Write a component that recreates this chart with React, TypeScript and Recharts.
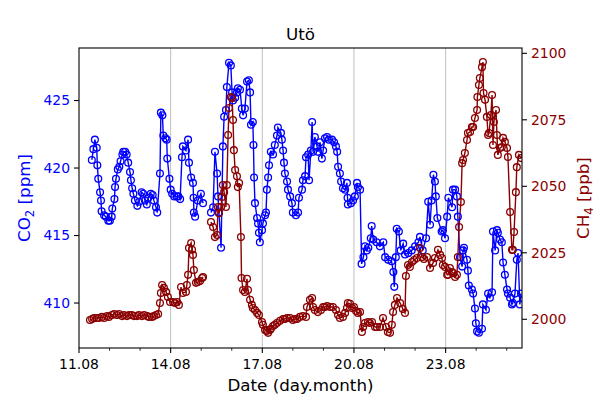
import React from "react";
import { ComposedChart, Line, XAxis, YAxis, ReferenceLine } from "recharts";

// [day of August, ppm]  (day 15.06 -> 15.32 has no measurements)
const co2BeforeGap: [number, number][] = [
  [11.42, 420.6], [11.47, 421.4], [11.52, 422.1], [11.58, 421.5], [11.6, 420.2], [11.63, 419.2],
  [11.69, 418.2], [11.72, 417.6], [11.74, 416.8], [11.82, 416.5], [11.88, 416.4], [11.96, 416.1],
  [12.01, 416.1], [12.07, 416.4], [12.09, 417.0], [12.16, 417.7], [12.18, 418.6], [12.21, 419.2],
  [12.27, 419.9], [12.32, 420.1], [12.36, 420.5], [12.42, 421.0], [12.45, 421.2], [12.51, 421.2],
  [12.56, 421.0], [12.61, 420.4], [12.67, 419.7], [12.7, 419.1], [12.74, 418.5], [12.78, 418.1],
  [12.83, 417.6], [12.91, 417.2], [12.97, 417.5], [13.05, 418.2], [13.1, 418.1], [13.16, 417.6],
  [13.22, 417.3], [13.27, 417.8], [13.35, 418.1], [13.41, 418.0], [13.45, 417.6], [13.52, 417.1],
  [13.56, 416.7], [13.65, 419.6], [13.68, 424.1], [13.73, 423.9], [13.76, 422.4], [13.83, 422.2],
  [13.87, 422.1], [13.89, 420.7], [13.96, 419.2], [14.0, 418.4], [14.05, 418.1], [14.12, 417.9],
  [14.2, 417.9], [14.25, 417.9], [14.31, 417.7], [14.37, 420.8], [14.4, 421.6], [14.5, 421.3],
  [14.57, 422.1], [14.6, 420.4], [14.67, 419.3], [14.73, 418.9], [14.75, 417.8], [14.76, 416.7],
  [14.8, 416.4], [14.89, 417.6], [14.99, 418.1], [15.06, 417.4],
];

const co2AfterGap: [number, number][] = [
  [15.32, 416.7], [15.39, 417.1], [15.45, 421.2], [15.52, 419.6], [15.55, 417.9], [15.58, 416.7],
  [15.65, 414.1], [15.71, 421.6], [15.75, 423.8], [15.81, 424.3], [15.84, 426.0], [15.91, 427.8],
  [15.97, 427.6], [16.01, 425.6], [16.04, 425.0], [16.11, 425.2], [16.17, 425.6], [16.2, 425.9],
  [16.27, 425.8], [16.33, 424.4], [16.37, 423.9], [16.43, 424.4], [16.5, 426.4], [16.56, 426.5],
  [16.6, 425.6], [16.63, 423.2], [16.69, 423.4], [16.71, 421.7], [16.73, 419.3], [16.76, 417.4],
  [16.83, 416.3], [16.86, 415.9], [16.89, 415.2], [16.92, 414.5], [16.99, 415.4], [17.02, 415.9],
  [17.09, 416.5], [17.12, 416.7], [17.15, 418.4], [17.19, 419.3], [17.22, 420.2], [17.28, 421.2],
  [17.35, 421.0], [17.41, 421.7], [17.48, 422.4], [17.51, 423.0], [17.61, 422.6], [17.64, 422.1],
  [17.68, 421.3], [17.71, 420.4], [17.74, 419.6], [17.81, 419.0], [17.84, 418.4], [17.91, 417.9],
  [17.97, 417.4], [18.0, 416.7], [18.1, 416.5], [18.17, 416.7], [18.2, 417.8], [18.3, 418.4],
  [18.33, 419.1], [18.4, 419.4], [18.43, 420.8], [18.5, 421.0], [18.53, 419.1], [18.59, 421.3],
  [18.63, 423.4], [18.66, 421.2], [18.72, 422.3], [18.79, 421.6], [18.82, 421.2], [18.89, 421.9],
  [18.95, 420.7], [18.99, 421.3], [19.05, 422.2], [19.12, 422.3], [19.18, 422.1], [19.28, 422.1],
  [19.35, 421.9], [19.41, 421.6], [19.45, 421.2], [19.48, 420.1], [19.54, 419.6], [19.58, 419.0],
  [19.64, 418.5], [19.71, 418.4], [19.77, 418.9], [19.79, 417.8], [19.8, 417.3], [19.9, 417.4],
  [19.97, 417.6], [20.03, 417.9], [20.1, 418.9], [20.13, 418.6], [20.2, 418.4], [20.25, 412.9],
  [20.31, 413.4], [20.36, 414.2], [20.42, 413.9], [20.47, 414.1], [20.55, 414.8], [20.58, 415.7],
  [20.63, 414.7], [20.74, 414.5], [20.85, 414.2], [20.96, 414.5], [21.02, 413.4], [21.12, 413.2],
  [21.23, 413.1], [21.29, 412.3], [21.32, 411.2], [21.37, 413.4], [21.4, 415.5], [21.47, 415.3],
  [21.53, 413.9], [21.61, 414.4], [21.67, 413.6], [21.78, 413.7], [21.89, 413.9], [22.0, 414.2],
  [22.11, 414.5], [22.16, 414.9], [22.25, 413.9], [22.36, 414.8], [22.43, 417.5], [22.49, 415.8],
  [22.54, 417.6], [22.6, 419.5], [22.65, 419.0], [22.68, 417.9], [22.73, 416.3], [22.87, 415.3],
  [22.91, 415.4], [22.98, 414.8], [23.05, 416.4], [23.09, 417.8], [23.21, 417.1], [23.24, 418.4],
  [23.31, 418.4], [23.37, 417.9], [23.4, 416.4], [23.47, 413.4], [23.54, 412.7], [23.57, 413.9],
  [23.6, 414.1], [23.7, 413.2], [23.73, 412.4], [23.76, 411.3], [23.86, 411.0], [23.9, 410.7],
  [23.96, 409.6], [23.99, 408.5], [24.03, 407.9], [24.09, 407.8], [24.19, 408.1], [24.22, 409.9],
  [24.32, 409.5], [24.39, 410.7], [24.45, 410.4], [24.52, 410.8], [24.55, 415.3], [24.62, 413.9],
  [24.68, 415.4], [24.71, 415.2], [24.78, 414.7], [24.84, 414.5], [24.88, 413.0], [24.94, 412.1],
  [25.01, 411.0], [25.04, 410.7], [25.11, 410.4], [25.17, 409.9], [25.2, 410.0], [25.27, 410.7],
  [25.33, 413.2], [25.37, 413.7], [25.43, 409.9], [25.47, 410.7],
];

// [day of August, ppb]
const ch4BeforeGap: [number, number][] = [
  [11.36, 1999.7], [11.43, 2000.1], [11.49, 2000.5], [11.59, 2000.5], [11.65, 2000.5], [11.75, 2000.9],
  [11.82, 2000.5], [11.92, 2001.2], [11.98, 2000.9], [12.08, 2001.6], [12.15, 2002.0], [12.24, 2001.6],
  [12.31, 2002.0], [12.41, 2001.2], [12.47, 2001.6], [12.57, 2001.2], [12.64, 2001.6], [12.73, 2001.6],
  [12.8, 2001.2], [12.9, 2001.2], [12.96, 2001.6], [13.06, 2001.2], [13.13, 2001.6], [13.23, 2001.2],
  [13.29, 2000.9], [13.39, 2000.9], [13.45, 2001.2], [13.52, 2001.6], [13.59, 2002.0], [13.65, 2006.1],
  [13.68, 2009.9], [13.72, 2012.9], [13.78, 2011.8], [13.85, 2010.3], [13.91, 2008.4], [13.98, 2006.5],
  [14.08, 2006.5], [14.14, 2006.1], [14.21, 2006.5], [14.27, 2005.4], [14.34, 2012.1], [14.4, 2009.9],
  [14.5, 2010.3], [14.53, 2012.9], [14.57, 2016.7], [14.6, 2026.8], [14.67, 2028.7], [14.7, 2026.1],
  [14.73, 2024.2], [14.76, 2018.5], [14.83, 2013.7], [14.89, 2014.0], [14.96, 2014.4], [15.03, 2015.5],
  [15.06, 2015.9],
];

const ch4AfterGap: [number, number][] = [
  [15.32, 2036.6], [15.39, 2034.7], [15.45, 2030.9], [15.52, 2031.7], [15.55, 2042.2], [15.58, 2039.9],
  [15.65, 2042.2], [15.68, 2046.0], [15.71, 2050.5], [15.75, 2047.8], [15.81, 2042.2], [15.84, 2050.5],
  [15.88, 2069.3], [15.91, 2079.4], [15.97, 2083.6], [16.01, 2083.2], [16.04, 2074.9], [16.07, 2063.6],
  [16.11, 2056.1], [16.17, 2053.8], [16.2, 2049.7], [16.24, 2051.2], [16.3, 2030.9], [16.32, 2015.5],
  [16.37, 2011.0], [16.43, 2010.3], [16.5, 2015.2], [16.53, 2011.0], [16.6, 2007.3], [16.66, 2005.4],
  [16.69, 2004.2], [16.76, 2003.5], [16.83, 2002.4], [16.89, 2001.6], [16.99, 1999.0], [17.02, 1997.9],
  [17.09, 1996.0], [17.15, 1995.6], [17.19, 1994.9], [17.25, 1996.0], [17.28, 1996.4], [17.35, 1997.5],
  [17.41, 1997.9], [17.48, 1998.6], [17.58, 1999.4], [17.68, 2000.1], [17.74, 2000.1], [17.81, 2000.5],
  [17.91, 2000.5], [18.0, 1999.7], [18.07, 2000.1], [18.14, 2000.1], [18.23, 2000.9], [18.33, 2001.2],
  [18.43, 2000.9], [18.46, 2004.6], [18.56, 2007.3], [18.63, 2008.0], [18.66, 2004.6], [18.72, 2003.5],
  [18.82, 2002.7], [18.92, 2003.5], [18.99, 2004.6], [19.05, 2004.6], [19.12, 2005.0], [19.22, 2004.6],
  [19.31, 2004.6], [19.41, 2003.5], [19.48, 2001.6], [19.54, 2000.5], [19.64, 2000.9], [19.71, 2002.4],
  [19.77, 2004.2], [19.8, 2006.1], [19.87, 2005.8], [19.94, 2004.2], [20.0, 2004.6], [20.07, 2003.1],
  [20.13, 2002.4], [20.2, 2002.7], [20.26, 1995.2], [20.3, 1997.1], [20.36, 1998.6], [20.46, 1999.0],
  [20.52, 1998.6], [20.59, 1999.0], [20.69, 1997.1], [20.75, 1997.1], [20.85, 1997.1], [20.95, 2000.5],
  [21.05, 1997.1], [21.11, 1995.2], [21.18, 1994.9], [21.24, 1997.9], [21.28, 2002.7], [21.34, 2005.4],
  [21.41, 2008.0], [21.51, 2006.1], [21.6, 2003.9], [21.67, 2002.4], [21.7, 2016.3], [21.77, 2020.4],
  [21.83, 2019.7], [21.9, 2021.5], [21.97, 2022.3], [22.06, 2023.0], [22.16, 2026.8], [22.23, 2023.4],
  [22.29, 2022.7], [22.39, 2023.4], [22.49, 2019.3], [22.59, 2021.2], [22.65, 2023.0], [22.75, 2026.1],
  [22.82, 2024.2], [22.88, 2023.0], [22.91, 2020.4], [22.98, 2019.7], [23.05, 2016.7], [23.08, 2016.7],
  [23.14, 2019.3], [23.21, 2017.8], [23.24, 2017.4], [23.31, 2015.9], [23.37, 2016.7], [23.4, 2023.4],
  [23.44, 2034.7], [23.5, 2044.1], [23.54, 2058.7], [23.57, 2059.9], [23.63, 2062.5], [23.7, 2067.4],
  [23.73, 2070.0], [23.8, 2070.4], [23.86, 2072.3], [23.9, 2072.3], [23.96, 2075.7], [24.03, 2078.7],
  [24.04, 2083.6], [24.09, 2088.1], [24.12, 2090.7], [24.19, 2094.8], [24.22, 2096.7], [24.24, 2085.1],
  [24.29, 2082.5], [24.35, 2076.1], [24.39, 2069.3], [24.42, 2070.0], [24.48, 2076.8], [24.52, 2084.3],
  [24.55, 2065.5], [24.58, 2074.2], [24.65, 2078.7], [24.68, 2069.3], [24.71, 2061.8], [24.78, 2064.4],
  [24.84, 2064.8], [24.88, 2068.2], [24.94, 2066.7], [25.01, 2064.4], [25.04, 2061.0], [25.11, 2040.3],
  [25.17, 2026.1], [25.2, 2026.1], [25.24, 2032.8], [25.3, 2047.8], [25.33, 2057.2], [25.4, 2061.8],
  [25.47, 2060.6],
];

const GAP_DAY = 15.2;

const dayTicks = [11, 12, 13, 14, 15, 16, 17, 18, 19, 20, 21, 22, 23, 24, 25];
const labelledDays = [11, 14, 17, 20, 23];
const co2Ticks = [410, 415, 420, 425];
const ch4Ticks = [2000, 2025, 2050, 2075, 2100];

const BLUE = "#0000ff";
const RED = "#8b0000";
const FONT = "DejaVu Sans, sans-serif";

const withGap = (a: [number, number][], b: [number, number][]) => [
  ...a.map(([t, v]) => ({ t, v })),
  { t: GAP_DAY, v: null },
  ...b.map(([t, v]) => ({ t, v })),
];

const co2Data = withGap(co2BeforeGap, co2AfterGap);
const ch4Data = withGap(ch4BeforeGap, ch4AfterGap);

const DayTick = (props: any) => {
  const { x, y, payload } = props;
  const major = labelledDays.includes(payload.value);
  return (
    <g>
      <line x1={x} x2={x} y1={y} y2={y + (major ? 4.9 : 2.8)} stroke="#000" strokeWidth={major ? 1.1 : 0.8} />
      {major && (
        <text x={x} y={y + 20.5} textAnchor="middle" fontSize={13.9} fontFamily={FONT} fill="#000">
          {String(payload.value).padStart(2, "0") + ".08"}
        </text>
      )}
    </g>
  );
};

export default function App() {
  return (
    <div style={{ position: "absolute", left: 0, top: 0, width: 600, height: 400, background: "#fff" }}>
      <ComposedChart width={600} height={400} margin={{ top: 48, right: 0, bottom: 0, left: 0 }}>
        <XAxis
          dataKey="t"
          type="number"
          domain={[11, 25.5]}
          ticks={dayTicks}
          interval={0}
          allowDataOverflow
          height={52}
          axisLine={false}
          tickLine={false}
          tickSize={0}
          tickMargin={0}
          tick={<DayTick />}
        />
        <YAxis
          yAxisId="co2"
          domain={[406.67, 428.89]}
          ticks={co2Ticks}
          allowDataOverflow
          width={79}
          axisLine={false}
          tickSize={5}
          tickMargin={4}
          tickLine={{ stroke: "#000", strokeWidth: 1.1 }}
          tick={{ fill: BLUE, fontSize: 13.9, fontFamily: FONT }}
        />
        <YAxis
          yAxisId="ch4"
          orientation="right"
          domain={[1989.2, 2102]}
          ticks={ch4Ticks}
          allowDataOverflow
          width={78}
          axisLine={false}
          tickSize={5}
          tickMargin={4}
          tickLine={{ stroke: "#000", strokeWidth: 1.1 }}
          tick={{ fill: RED, fontSize: 13.9, fontFamily: FONT }}
        />
        {labelledDays.slice(1).map((d) => (
          <ReferenceLine key={d} x={d} yAxisId="co2" stroke="#b0b0b0" strokeWidth={0.8} />
        ))}
        <Line
          data={co2Data}
          dataKey="v"
          yAxisId="co2"
          type="linear"
          stroke={BLUE}
          strokeWidth={1.4}
          dot={{ r: 3.4, stroke: BLUE, strokeWidth: 1.3, fill: "none" }}
          activeDot={false}
          isAnimationActive={false}
        />
        <Line
          data={ch4Data}
          dataKey="v"
          yAxisId="ch4"
          type="linear"
          stroke={RED}
          strokeWidth={1.4}
          dot={{ r: 3.4, stroke: RED, strokeWidth: 1.3, fill: "none" }}
          activeDot={false}
          isAnimationActive={false}
        />
      </ComposedChart>
      <svg width={600} height={400} style={{ position: "absolute", left: 0, top: 0, pointerEvents: "none" }} fontFamily={FONT}>
        <rect x={79} y={48} width={443} height={300} fill="none" stroke="#000" strokeWidth={1.1} />
        <text x={300.5} y={40} textAnchor="middle" fontSize={16.7} fill="#000">
          Utö
        </text>
        <text x={300.5} y={391} textAnchor="middle" fontSize={16.7} fill="#000">
          Date (day.month)
        </text>
        <text transform="translate(30,198) rotate(-90)" textAnchor="middle" fontSize={16.7} fill={BLUE}>
          CO<tspan fontSize={11.7} dy={4}>2</tspan>
          <tspan dy={-4}> [ppm]</tspan>
        </text>
        <text transform="translate(589,198) rotate(-90)" textAnchor="middle" fontSize={16.7} fill={RED}>
          CH<tspan fontSize={11.7} dy={4}>4</tspan>
          <tspan dy={-4}> [ppb]</tspan>
        </text>
      </svg>
    </div>
  );
}
